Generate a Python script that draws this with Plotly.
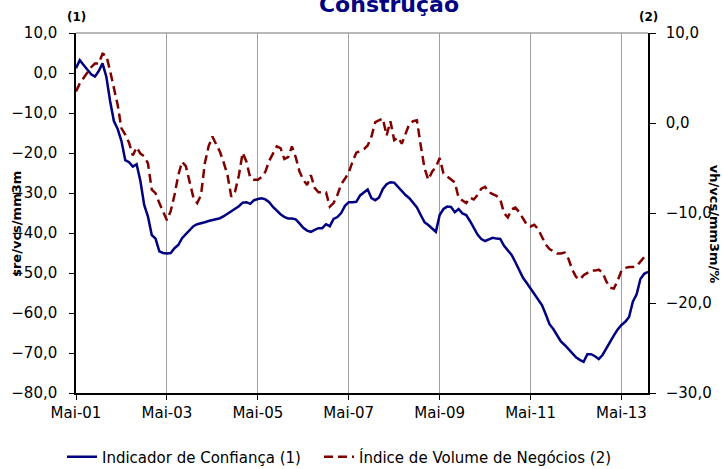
import plotly.graph_objects as go

# Indicador de Confiança (1) - left axis, monthly from Mai-01
confianca = [
    1.2, 3.2, 2.0, 0.9, -0.3, -0.9, 0.5, 2.4, -0.9, -7.0,
    -12.0, -14.0, -17.0, -21.8, -22.3, -23.4, -22.8, -27.0, -33.0, -35.9,
    -40.5, -41.4, -44.6, -45.0, -45.1, -45.0, -43.8, -43.0, -41.3, -40.3,
    -39.2, -38.3, -37.8, -37.6, -37.3, -37.0, -36.8, -36.5, -36.3, -35.8,
    -35.2, -34.6, -33.9, -33.3, -32.4, -32.3, -32.7, -31.8, -31.5, -31.3,
    -31.6, -32.3, -33.5, -34.5, -35.3, -36.0, -36.4, -36.4, -36.6, -37.6,
    -38.7, -39.4, -39.7, -39.2, -38.8, -38.8, -37.8, -38.3, -36.5, -36.0,
    -35.0, -33.2, -32.3, -32.3, -32.2, -30.6, -29.8, -29.1, -31.3, -31.8,
    -31.1, -29.0, -27.8, -27.3, -27.4, -28.5, -29.5, -30.5, -31.3, -32.5,
    -33.6, -35.5, -37.3, -38.0, -38.8, -39.7, -35.5, -34.0, -33.4, -33.5,
    -34.8, -34.0, -35.1, -35.5, -37.0, -38.6, -40.4, -41.5, -42.0, -41.6,
    -41.2, -41.4, -41.5, -43.2, -44.3, -45.5, -47.3, -49.3, -51.2, -52.5,
    -53.8, -55.2, -56.4, -58.0, -60.3, -62.8, -64.0, -65.5, -67.1, -68.0,
    -69.0, -70.1, -71.1, -71.7, -72.2, -70.3, -70.3, -70.8, -71.5, -70.5,
    -68.8, -67.0, -65.6, -64.1, -63.0, -62.2, -61.0, -57.2, -55.3, -51.5,
    -50.2, -49.7,
]

# Índice de Volume de Negócios (2) - right axis
volume = [
    3.5, 4.4, 5.0, 5.6, 6.2, 6.6, 6.6, 7.7, 7.5, 5.8,
    3.8, 2.0, -0.6, -1.3, -2.2, -3.6, -2.7, -3.4, -3.7, -4.5,
    -7.4, -7.8, -8.9, -9.9, -10.8, -9.8, -8.0, -5.8, -4.3, -4.8,
    -6.6, -8.3, -8.9, -8.0, -4.5, -2.6, -1.5, -2.3, -3.2, -4.4,
    -5.8, -8.2, -7.6, -5.8, -3.3, -4.3, -6.1, -6.3, -6.3, -6.0,
    -5.4, -4.2, -3.4, -2.6, -2.8, -4.0, -3.8, -2.6, -3.8, -5.4,
    -6.3, -6.9, -5.8, -7.2, -7.7, -7.7, -7.7, -9.3, -8.9, -8.0,
    -6.8, -6.2, -5.5, -4.3, -3.3, -3.1, -2.9, -2.5, -1.5, 0.1,
    0.3, 0.5, -1.4, 0.2, -1.9, -1.6, -2.3, -1.3, -0.1, 0.2,
    0.3, -2.5, -5.0, -6.3, -5.4, -4.9, -3.9, -5.6, -5.9, -6.2,
    -6.6, -8.3, -8.6, -8.9, -8.3, -8.5, -8.0, -7.3, -7.1, -7.7,
    -7.9, -8.1, -8.5, -10.0, -10.5, -9.6, -9.4, -9.9, -10.6, -11.3,
    -11.5, -11.3, -11.8, -12.7, -13.5, -14.0, -14.3, -14.5, -14.5, -14.4,
    -15.1, -16.3, -17.1, -17.4, -16.9, -16.6, -16.4, -16.4, -16.3, -16.6,
    -17.6, -18.3, -18.4, -17.5, -16.4, -16.1, -16.0, -16.0, -15.9, -15.4,
    -14.9,
]

tick_labels = ["Mai-01", "Mai-03", "Mai-05", "Mai-07", "Mai-09", "Mai-11", "Mai-13"]
tick_pos = [i * 24 for i in range(len(tick_labels))]

FONT = "Tahoma, 'DejaVu Sans', sans-serif"
BLUE = "#000080"
RED = "#800000"

fig = go.Figure()

fig.add_trace(go.Scatter(
    x=list(range(len(confianca))),
    y=confianca,
    mode="lines",
    name="Indicador de Confiança (1)",
    line=dict(color=BLUE, width=2.5),
    legend="legend",
))

fig.add_trace(go.Scatter(
    x=list(range(len(volume))),
    y=volume,
    mode="lines",
    name="Índice de Volume de Negócios (2)",
    line=dict(color=RED, width=2.5, dash="9px,5px"),
    yaxis="y2",
    legend="legend2",
))

legend_common = dict(
    orientation="h",
    xref="container", yref="container",
    xanchor="left",
    y=1 - 457 / 469, yanchor="middle",
    font=dict(family=FONT, size=15),
    itemwidth=30,
    bgcolor="rgba(0,0,0,0)",
)

fig.update_layout(
    width=722,
    height=469,
    margin=dict(l=76, r=74, t=33, b=76),
    paper_bgcolor="white",
    plot_bgcolor="white",
    separators=",.",
    font=dict(family=FONT, size=15, color="black"),
    title=dict(
        text="<b>Construção</b>",
        font=dict(family=FONT, size=22, color=BLUE),
        x=389 / 722, xanchor="center",
        xref="container", yref="container",
        y=1 - 4 / 469, yanchor="middle",
    ),
    xaxis=dict(
        range=[0, 151],
        tickmode="array",
        tickvals=tick_pos,
        ticktext=tick_labels,
        showgrid=True,
        gridcolor="#a0a0a0",
        gridwidth=1,
        showline=True,
        linecolor="black",
        linewidth=1.5,
        ticks="outside",
        ticklen=5,
        tickcolor="black",
        zeroline=False,
        automargin=False,
    ),
    yaxis=dict(
        range=[-80, 10],
        tickmode="linear",
        tick0=-80,
        dtick=10,
        tickformat=".1f",
        showgrid=False,
        zeroline=False,
        showline=True,
        linecolor="black",
        linewidth=1.5,
        ticks="outside",
        ticklen=5,
        tickcolor="black",
        ticklabelstandoff=9,
        automargin=False,
    ),
    yaxis2=dict(
        range=[-30, 10],
        overlaying="y",
        side="right",
        tickmode="linear",
        tick0=-30,
        dtick=10,
        tickformat=".1f",
        showgrid=False,
        zeroline=False,
        showline=True,
        linecolor="black",
        linewidth=1.5,
        ticks="outside",
        ticklen=6,
        tickcolor="black",
        ticklabelstandoff=7,
        automargin=False,
    ),
    legend=dict(legend_common, x=62 / 722),
    legend2=dict(legend_common, x=319 / 722),
    showlegend=True,
)

# grey top border of plot area
fig.add_shape(type="line", xref="paper", yref="paper", x0=0, x1=1, y0=1, y1=1,
              line=dict(color="#a0a0a0", width=1.5))

# axis titles and unit markers
fig.add_annotation(text="<b>sre/vcs/mm3m</b>", xref="paper", yref="paper",
                   x=(17 - 76) / 572, y=0.47, xanchor="center", yanchor="middle",
                   textangle=-90, showarrow=False,
                   font=dict(family=FONT, size=13))
fig.add_annotation(text="<b>vh/vcs/mm3m/%</b>", xref="paper", yref="paper",
                   x=(714 - 76) / 572, y=0.47, xanchor="center", yanchor="middle",
                   textangle=90, showarrow=False,
                   font=dict(family=FONT, size=13))
fig.add_annotation(text="<b>(1)</b>", xref="paper", yref="paper",
                   x=0, y=1 + 16 / 360, xanchor="center", yanchor="middle",
                   showarrow=False, font=dict(family=FONT, size=12))
fig.add_annotation(text="<b>(2)</b>", xref="paper", yref="paper",
                   x=1, y=1 + 16 / 360, xanchor="center", yanchor="middle",
                   showarrow=False, font=dict(family=FONT, size=12))

# the page body has a default 8px margin; remove it so the figure sits at 0,0
fig.write_html("out.html", config={"displayModeBar": False},
               post_script="document.body.style.margin='0';")
